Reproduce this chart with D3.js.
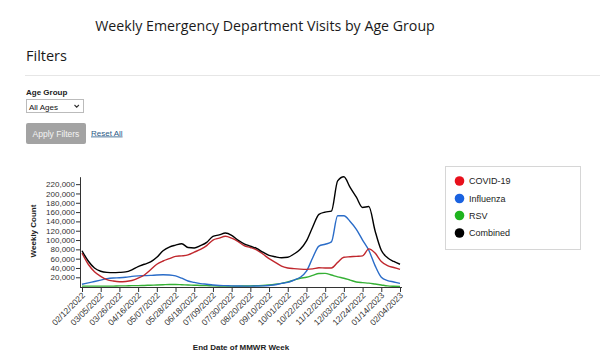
<!DOCTYPE html>
<html><head><meta charset="utf-8">
<script src="https://cdn.jsdelivr.net/npm/d3@7"></script>
<style>
html,body{margin:0;padding:0;background:#fff;width:600px;height:364px;overflow:hidden;}
svg{display:block;}
</style></head><body>
<svg id="c" width="600" height="364"></svg>
<script>
const weeks = ["2022-02-12","2022-02-19","2022-02-26","2022-03-05","2022-03-12","2022-03-19","2022-03-26","2022-04-02","2022-04-09","2022-04-16","2022-04-23","2022-04-30","2022-05-07","2022-05-14","2022-05-21","2022-05-28","2022-06-04","2022-06-11","2022-06-18","2022-06-25","2022-07-02","2022-07-09","2022-07-16","2022-07-23","2022-07-30","2022-08-06","2022-08-13","2022-08-20","2022-08-27","2022-09-03","2022-09-10","2022-09-17","2022-09-24","2022-10-01","2022-10-08","2022-10-15","2022-10-22","2022-10-29","2022-11-05","2022-11-12","2022-11-19","2022-11-26","2022-12-03","2022-12-10","2022-12-17","2022-12-24","2022-12-31","2023-01-07","2023-01-14","2023-01-21","2023-01-28","2023-02-04"];
const covid = [72000,48000,32000,22000,15000,12000,10500,11000,13000,18000,25000,36000,48000,55000,60000,65000,66000,68000,74000,80000,88000,100000,104000,108000,104000,97000,88000,84000,79000,70000,60000,52000,44000,40000,38500,37500,37000,38000,40500,40000,40000,52000,63000,64000,65000,66000,81000,72000,54000,45000,41000,37000];
const influenza = [5000,8000,11000,14000,17000,18500,19000,20000,22000,23000,23500,24000,25000,25500,25000,23000,18000,12000,9000,6500,5000,3500,2500,2000,1500,1200,1000,1000,1200,1500,2500,4000,7000,9000,14000,20000,33000,62000,87000,91000,96000,152000,152000,140000,123000,100000,78000,45000,20000,13000,10000,7000];
const rsv = [1000,1000,1000,1000,1000,1000,1500,1500,2000,2000,2500,3000,3500,4000,4500,4500,4000,3500,3000,2500,2000,1500,1200,1000,1000,1000,1200,1500,2000,2500,3500,5000,7000,10000,14000,18000,20000,24000,28000,28500,25000,21000,18000,14000,10000,8500,7500,5500,3500,1500,800,500];
const combined = [77000,55000,40000,33000,30500,30000,30500,31500,36000,43000,48000,53000,63000,77000,85000,89000,92000,84000,83000,88000,95000,108000,111000,115000,110000,100000,92000,87000,82000,74000,67000,64000,62000,63000,70000,80000,98000,128000,155000,160000,162000,227000,236000,213000,192000,170000,172000,120000,78000,62000,54000,48000];
const yTicks = [20000,40000,60000,80000,100000,120000,140000,160000,180000,200000,220000];
const xTickDates = ["2022-02-12","2022-03-05","2022-03-26","2022-04-16","2022-05-07","2022-05-28","2022-06-18","2022-07-09","2022-07-30","2022-08-20","2022-09-10","2022-10-01","2022-10-22","2022-11-12","2022-12-03","2022-12-24","2023-01-14","2023-02-04"];
const seriesNames = ["COVID-19","Influenza","RSV","Combined"];
const lineColors = ["#c0272d","#2a6cc8","#35b035","#000000"];
const dotColors = ["#e8101c","#1a62e0","#1fb41f","#000000"];

const parse = d3.utcParse("%Y-%m-%d");
const dates = weeks.map(parse);
const svg = d3.select("#c");
const sans = "'Liberation Sans', Arial, sans-serif";

// Page header
svg.append("text").attr("x",265).attr("y",31).attr("text-anchor","middle")
  .attr("font-family","'Open Sans', sans-serif").attr("font-size",14.2).attr("fill","#1a1a1a")
  .text("Weekly Emergency Department Visits by Age Group");
svg.append("text").attr("x",26).attr("y",61)
  .attr("font-family","'Open Sans', sans-serif").attr("font-size",14.5).attr("fill","#1a1a1a").text("Filters");
svg.append("line").attr("x1",25).attr("x2",600).attr("y1",75.5).attr("y2",75.5).attr("stroke","#e6e6e6").attr("stroke-width",1);
svg.append("text").attr("x",26).attr("y",95).attr("font-family",sans).attr("font-size",8).attr("font-weight","bold").attr("fill","#222").text("Age Group");
svg.append("rect").attr("x",26.5).attr("y",99.5).attr("width",57).attr("height",13).attr("fill","#fff").attr("stroke","#bbb");
svg.append("text").attr("x",29).attr("y",109.5).attr("font-family",sans).attr("font-size",8).attr("fill","#111").text("All Ages");
svg.append("path").attr("d","M74.5,105 l2.2,2.2 l2.2,-2.2").attr("fill","none").attr("stroke","#333").attr("stroke-width",1.1);
svg.append("rect").attr("x",26).attr("y",123).attr("width",60).attr("height",21).attr("rx",2).attr("fill","#a3a3a3");
svg.append("text").attr("x",56).attr("y",136.5).attr("text-anchor","middle").attr("font-family",sans).attr("font-size",8.5).attr("fill","#f4f4f4").text("Apply Filters");
svg.append("text").attr("x",91).attr("y",135.5).attr("font-family",sans).attr("font-size",8).attr("fill","#2a5a86").attr("text-decoration","underline").text("Reset All");

// Scales
const x = d3.scaleUtc().domain([dates[0], dates[dates.length-1]]).range([82, 400]);
const y = d3.scaleLinear().domain([0, d3.max(combined)]).range([286.6, 176.7]);

// Y axis
const gy = svg.append("g").attr("transform","translate(80,0)")
  .call(d3.axisLeft(y).tickValues(yTicks).tickFormat(d3.format(",")).tickSize(4).tickSizeOuter(0));
gy.selectAll("text").attr("font-family",sans).attr("font-size",8).attr("fill","#333").attr("x",-5);
gy.selectAll("line").attr("stroke","#333");
gy.select(".domain").attr("stroke","#333");

// X axis
const gx = svg.append("g").attr("transform","translate(0,287)")
  .call(d3.axisBottom(x).tickValues(xTickDates.map(parse)).tickFormat(d3.utcFormat("%m/%d/%Y")).tickSize(5).tickSizeOuter(0));
gx.select(".domain").attr("stroke","#333").attr("d","M80,0.5H402");
gx.selectAll("line").attr("stroke","#333");
gx.selectAll("text").attr("font-family",sans).attr("font-size",8.5).attr("fill","#333")
  .attr("text-anchor","end").attr("dy",null).attr("y",null)
  .attr("transform","translate(3,9) rotate(-45)");

// Axis titles
svg.append("text").attr("transform","translate(36,231) rotate(-90)").attr("text-anchor","middle")
  .attr("font-family",sans).attr("font-size",8).attr("font-weight","bold").attr("fill","#222").text("Weekly Count");
svg.append("text").attr("x",241).attr("y",350).attr("text-anchor","middle")
  .attr("font-family",sans).attr("font-size",8).attr("font-weight","bold").attr("fill","#222").text("End Date of MMWR Week");

// Lines
const allSeries = [covid, influenza, rsv, combined];
const line = d3.line().x((d,i)=>x(dates[i])).y(d=>y(d)).curve(d3.curveMonotoneX);
[2,1,0,3].forEach(k=>{
  svg.append("path").datum(allSeries[k]).attr("d",line).attr("fill","none")
    .attr("stroke",lineColors[k]).attr("stroke-width",1.4);
});

// Legend
svg.append("rect").attr("x",445.5).attr("y",166.5).attr("width",135).attr("height",83).attr("fill","#fff").attr("stroke","#d6d6d6");
const ly = [181,198.5,215.5,233];
seriesNames.forEach((n,i)=>{
  svg.append("circle").attr("cx",459.5).attr("cy",ly[i]).attr("r",4.8).attr("fill",dotColors[i]);
  svg.append("text").attr("x",469).attr("y",ly[i]+3.3).attr("font-family",sans).attr("font-size",9).attr("fill","#222").text(n);
});
</script>
</body></html>
